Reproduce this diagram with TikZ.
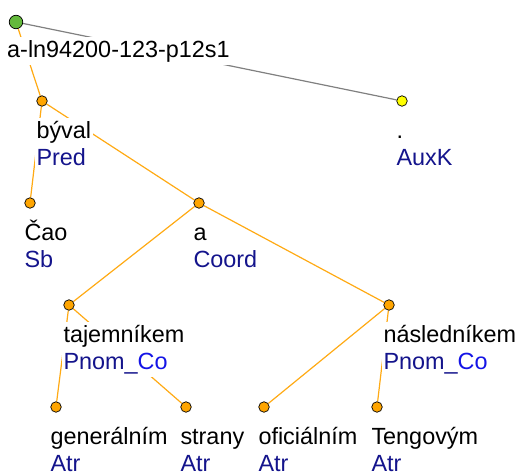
\documentclass[tikz,border=0pt]{standalone}
\usepackage{fontspec}
\setmainfont{Liberation Sans}
\usetikzlibrary{backgrounds}
\definecolor{nodeorange}{RGB}{255,165,0}
\definecolor{edgeorange}{RGB}{255,170,20}
\definecolor{rootgreen}{RGB}{100,185,60}
\definecolor{auxyellow}{RGB}{255,255,0}
\definecolor{afunblue}{RGB}{20,20,140}
\definecolor{coblue}{RGB}{20,20,230}
\definecolor{edgegray}{RGB}{128,128,128}
\tikzset{
  treeedge/.style={draw=edgeorange, line width=1.2pt},
  grayedge/.style={draw=edgegray, line width=1.2pt},
  dotnode/.style={circle, draw=black, fill=nodeorange, line width=0.7pt, inner sep=0pt, minimum size=10.5pt},
  rootdot/.style={dotnode, fill=rootgreen, minimum size=13.5pt},
  yellowdot/.style={dotnode, fill=auxyellow},
  wordtext/.style={fill=white, inner xsep=2pt, inner ysep=3pt, text height=17pt, text depth=5pt, anchor=base west, font=\fontsize{23.4}{27}\selectfont},
  afuntext/.style={wordtext, text=afunblue},
}
\newcommand\treenode[6]{%
  \node[#4] (#1) at (#2,#3) {};
  \node[wordtext] (#1w) at ([shift={(-7.7,37)}]#1.center) {#5};
  \node[afuntext] (#1l) at ([shift={(-7.7,64)}]#1.center) {#6};
}
\begin{document}
\begin{tikzpicture}[x=1pt,y=-1pt]
\useasboundingbox (0,0) rectangle (520,474);
\node[rootdot] (root) at (16,22) {};
\node[wordtext] (rootw) at (5,57) {a-ln94200-123-p12s1};
\treenode{byval}{42}{101}{dotnode}{býval}{Pred}
\treenode{auxk}{402}{101}{yellowdot}{.}{AuxK}
\treenode{cao}{30}{203}{dotnode}{Čao}{Sb}
\treenode{coord}{199}{203}{dotnode}{a}{Coord}
\treenode{taj}{69}{305}{dotnode}{tajemníkem}{Pnom\_\textcolor{coblue}{Co}}
\treenode{nasl}{389}{305}{dotnode}{následníkem}{Pnom\_\textcolor{coblue}{Co}}
\treenode{gen}{56}{407}{dotnode}{generálním}{Atr}
\treenode{strany}{186}{407}{dotnode}{strany}{Atr}
\treenode{ofic}{264}{407}{dotnode}{oficiálním}{Atr}
\treenode{teng}{377}{407}{dotnode}{Tengovým}{Atr}
\begin{scope}[on background layer]
\draw[grayedge] (root) -- (auxk);
\draw[treeedge] (root) -- (byval);
\draw[treeedge] (byval) -- (cao);
\draw[treeedge] (byval) -- (coord);
\draw[treeedge] (coord) -- (taj);
\draw[treeedge] (coord) -- (nasl);
\draw[treeedge] (taj) -- (gen);
\draw[treeedge] (taj) -- (strany);
\draw[treeedge] (nasl) -- (ofic);
\draw[treeedge] (nasl) -- (teng);
\end{scope}
\end{tikzpicture}
\end{document}
